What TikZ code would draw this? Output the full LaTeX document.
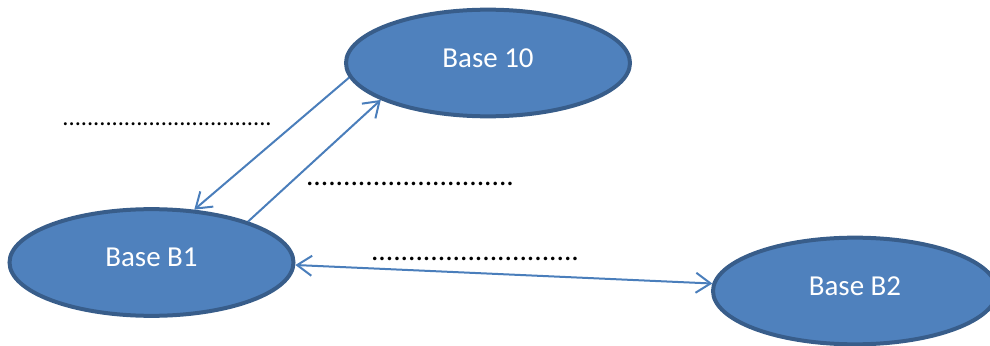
\documentclass[tikz,border=0pt]{standalone}
\usepackage{fontspec}
\setmainfont{Carlito}
\usetikzlibrary{shapes.geometric,arrows.meta}
\definecolor{ellfill}{HTML}{4F81BD}
\definecolor{elldraw}{HTML}{385D8A}
\definecolor{arrcol}{HTML}{4A7EBB}
\tikzset{
  baseell/.style={ellipse, fill=ellfill, draw=elldraw, line width=3pt,
    minimum width=213pt, minimum height=80pt, inner sep=0pt,
    text=white, font=\fontsize{21.7}{26}\selectfont, text depth=8pt},
  conn/.style={draw=arrcol, line width=1.5pt},
  tip/.style={-{Straight Barb[length=11pt,width=15pt]}},
  dots/.style={anchor=base west, inner sep=0pt, outer sep=0pt, text=black},
}
\begin{document}
\begin{tikzpicture}[x=0.75pt,y=-0.75pt]
\useasboundingbox (0,0) rectangle (990,346);
\node[baseell] (b10) at (488,63) {Base 10};
\node[baseell] (b1) at (151.5,262.5) {Base B1};
\node[baseell] (b2) at (855,291) {Base B2};
\draw[conn,tip] (b10.186) -- (b1.51);
\draw[conn,tip] (b1.23) -- (b10.199);
\draw[conn,{Straight Barb[length=11pt,width=15pt]}-{Straight Barb[length=11pt,width=15pt]}] (b1.-1) -- (b2.177);
\node[dots, font=\fontsize{18.3}{22}\selectfont] (d1) at (62.5,126) {..................................};
\node[dots, font=\fontsize{22.1}{26}\selectfont] (d2) at (306,185.5) {............................};
\node[dots, font=\fontsize{22.1}{26}\selectfont] (d3) at (371,260.5) {............................};
\end{tikzpicture}
\end{document}
